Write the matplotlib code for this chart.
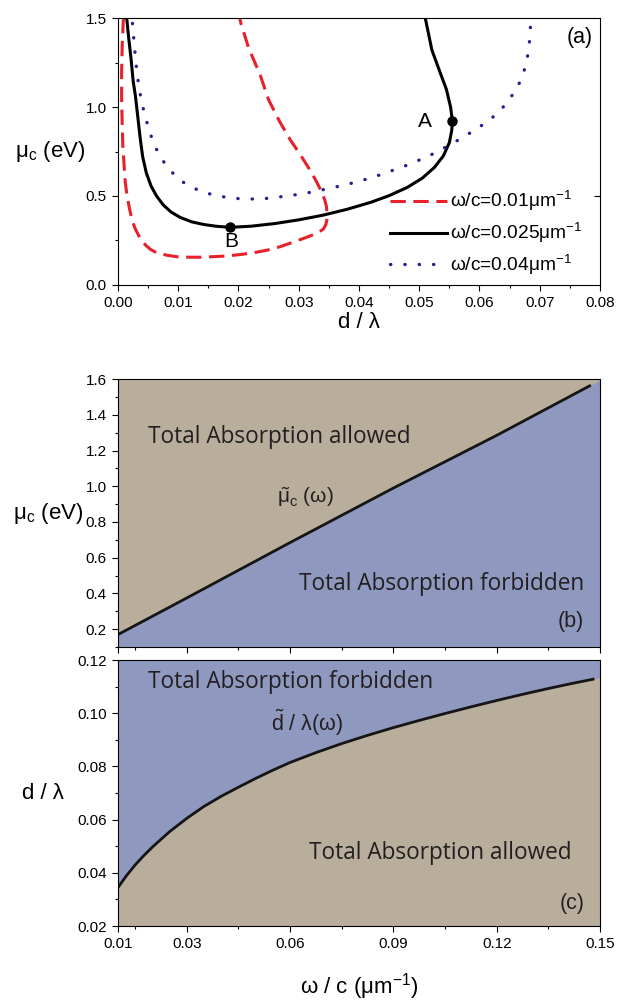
import matplotlib
matplotlib.use('Agg')
import matplotlib.pyplot as plt
from matplotlib.ticker import MultipleLocator, FixedLocator, FormatStrFormatter

plt.rcParams['font.family'] = ['Liberation Sans', 'DejaVu Sans']
plt.rcParams['mathtext.fontset'] = 'custom'
plt.rcParams['mathtext.rm'] = 'Liberation Sans'
plt.rcParams['mathtext.it'] = 'Liberation Sans'
plt.rcParams['mathtext.default'] = 'regular'

# panel (a): mu_c vs d/lambda for three omega/c
d_red = [0.0009, 0.0007, 0.0006, 0.0006, 0.0007, 0.0008, 0.0010, 0.0012, 0.0015,
         0.0019, 0.0023, 0.0028, 0.0034, 0.0039, 0.0047, 0.0054, 0.0064, 0.0080,
         0.0097, 0.0118, 0.0136, 0.0158, 0.0180, 0.0203, 0.0225, 0.0248, 0.0269,
         0.0290, 0.0305, 0.0320, 0.0333, 0.0341, 0.0345, 0.0347, 0.0347, 0.0346,
         0.0343, 0.0337, 0.0328, 0.0316, 0.0302, 0.0286, 0.0268, 0.0250, 0.0236,
         0.0217, 0.0204, 0.0202]
mu_red = [1.50, 1.35, 1.20, 1.05, 0.90, 0.78, 0.68, 0.58, 0.50,
          0.43, 0.37, 0.32, 0.28, 0.25, 0.22, 0.20, 0.181, 0.168,
          0.159, 0.156, 0.156, 0.159, 0.163, 0.171, 0.181, 0.196, 0.215,
          0.240, 0.258, 0.277, 0.295, 0.315, 0.34, 0.37, 0.40, 0.44,
          0.48, 0.53, 0.59, 0.66, 0.735, 0.815, 0.92, 1.04, 1.18,
          1.33, 1.47, 1.50]

d_blk = [0.00144, 0.0018, 0.0022, 0.0025, 0.0029, 0.0031, 0.0034, 0.0037, 0.0041,
         0.0047, 0.0055, 0.0064, 0.0075, 0.0088, 0.0103, 0.0122, 0.0142, 0.0163,
         0.0186, 0.0220, 0.0260, 0.0300, 0.0340, 0.0380, 0.0420, 0.0450, 0.0480,
         0.0505, 0.0525, 0.0540, 0.0550, 0.0554, 0.0555, 0.0552, 0.0545, 0.0534,
         0.0521, 0.0510]
mu_blk = [1.50, 1.38, 1.26, 1.15, 1.06, 1.00, 0.91, 0.82, 0.72,
          0.63, 0.555, 0.50, 0.45, 0.41, 0.38, 0.355, 0.34, 0.33,
          0.324, 0.330, 0.345, 0.366, 0.392, 0.425, 0.465, 0.502, 0.548,
          0.600, 0.660, 0.725, 0.800, 0.870, 0.923, 1.00, 1.10, 1.20,
          1.32, 1.50]

d_blu = [0.0024, 0.0027, 0.0030, 0.0034, 0.0039, 0.0045, 0.0052, 0.0060, 0.0070,
         0.0080, 0.0092, 0.0108, 0.0125, 0.0145, 0.0165, 0.0185, 0.0205, 0.0227,
         0.0249, 0.0271, 0.0297, 0.0320, 0.0357, 0.0399, 0.0438, 0.0479, 0.0515,
         0.0551, 0.0575, 0.0598, 0.0620, 0.0637, 0.0651, 0.0663, 0.0672, 0.0678,
         0.0682, 0.0684, 0.0685]
mu_blu = [1.47, 1.35, 1.24, 1.13, 1.03, 0.95, 0.865, 0.79, 0.721,
          0.672, 0.625, 0.578, 0.545, 0.518, 0.501, 0.490, 0.484, 0.483,
          0.487, 0.496, 0.508, 0.521, 0.547, 0.581, 0.622, 0.672, 0.723,
          0.787, 0.835, 0.883, 0.936, 0.99, 1.05, 1.11, 1.18, 1.25,
          1.33, 1.41, 1.48]

labels_a = ['ω/c=0.01μm$^{-1}$', 'ω/c=0.025μm$^{-1}$', 'ω/c=0.04μm$^{-1}$']
pts_name = ['A', 'B']
pts_d = [0.0555, 0.0186]
pts_mu = [0.923, 0.324]

# panel (b): critical mu_c vs omega/c
om_b = [0.01, 0.03, 0.06, 0.09, 0.12, 0.147]
mu_b = [0.17, 0.375, 0.685, 0.99, 1.285, 1.562]
om_b_edge, mu_b_edge = 0.15, 1.595

# panel (c): critical d/lambda vs omega/c
om_c = [0.01, 0.0125, 0.015, 0.0175, 0.02, 0.025, 0.03, 0.035, 0.04, 0.045, 0.05,
        0.055, 0.06, 0.0675, 0.075, 0.0825, 0.09, 0.0975, 0.105, 0.1125, 0.12,
        0.1275, 0.135, 0.1415, 0.148]
dl_c = [0.0345, 0.039, 0.043, 0.0465, 0.0497, 0.0555, 0.0605, 0.065, 0.0688, 0.0722,
        0.0755, 0.0786, 0.0815, 0.0852, 0.0886, 0.0917, 0.0946, 0.0973, 0.0999,
        0.1024, 0.1048, 0.1071, 0.1093, 0.1111, 0.1128]
om_c_edge, dl_c_edge = 0.15, 0.1135

om_ticks = [0.01, 0.03, 0.06, 0.09, 0.12, 0.15]
om_minor = [0.015, 0.045, 0.075, 0.105, 0.135]

tan = '#b9ae9c'
blue = '#8f98bf'
ink = '#231f20'
txt_font = ['Open Sans', 'DejaVu Sans']

fig = plt.figure(figsize=(6.27, 10.01), dpi=100)
ax_a = fig.add_axes([0.1882, 0.7153, 0.7687, 0.2667])
ax_b = fig.add_axes([0.1882, 0.3536, 0.7687, 0.2677])
ax_c = fig.add_axes([0.1882, 0.0749, 0.7687, 0.2657])

for ax in (ax_a, ax_b, ax_c):
    ax.tick_params(which='both', direction='out', labelsize=11, width=0.8)
    ax.tick_params(which='major', length=4.5)
    ax.tick_params(which='minor', length=2.5)
    for s in ax.spines.values():
        s.set_linewidth(0.8)
    # single mid tick on the right spine, as in the original
    sec = ax.secondary_yaxis('right')
    sec.set_yticks([sum(ax.get_ylim()) / 2])
    sec.tick_params(direction='in', length=4, width=0.8, labelright=False)
    sec.spines['right'].set_visible(False)

# (a)
ax_a.plot(d_red, mu_red, color='#e8202a', lw=2.2, dashes=(5, 2.5), label=labels_a[0])
ax_a.plot(d_blk, mu_blk, color='black', lw=2.2, label=labels_a[1])
ax_a.plot(d_blu, mu_blu, color='#23238f', lw=2.4, dashes=(0.1, 4.2),
          dash_capstyle='round', label=labels_a[2])
ax_a.plot(pts_d, pts_mu, 'o', color='black', ms=6.5)
ax_a.text(0.0510, 0.921, pts_name[0], fontsize=15, ha='center', va='center')
ax_a.text(0.0188, 0.242, pts_name[1], fontsize=15, ha='center', va='center')
ax_a.text(0.0788, 1.393, '(a)', fontsize=15.5, ha='right', va='center')
ax_a.set_xlim(0, 0.08)
ax_a.set_ylim(0, 1.5)
ax_a.xaxis.set_major_locator(MultipleLocator(0.01))
ax_a.xaxis.set_minor_locator(MultipleLocator(0.005))
ax_a.yaxis.set_major_locator(MultipleLocator(0.5))
ax_a.yaxis.set_minor_locator(MultipleLocator(0.25))
ax_a.xaxis.set_major_formatter(FormatStrFormatter('%.2f'))
ax_a.yaxis.set_major_formatter(FormatStrFormatter('%.1f'))
ax_a.set_xlabel('d / λ', fontsize=16)
ax_a.xaxis.set_label_coords(0.5, -0.142)
ax_a.xaxis.label.set_va('center')
ax_a.set_ylabel('μ$_{c}$ (eV)', fontsize=16, rotation=0, ha='center', va='center')
ax_a.yaxis.set_label_coords(-0.141, 0.5)
ax_a.legend(loc='lower left', bbox_to_anchor=(0.564, 0.03), frameon=False,
            fontsize=13.8, handlelength=3.0, handletextpad=0.15, labelspacing=0.4,
            borderpad=0, borderaxespad=0)

# (b)
ax_b.set_xlim(0.01, 0.15)
ax_b.set_ylim(0.1, 1.6)
ax_b.set_facecolor(tan)
ax_b.fill_between(om_b + [om_b_edge], mu_b + [mu_b_edge], 0.1, color=blue, lw=0)
ax_b.plot(om_b, mu_b, color='#151515', lw=2.0)
ax_b.xaxis.set_major_locator(FixedLocator(om_ticks))
ax_b.xaxis.set_minor_locator(FixedLocator(om_minor))
ax_b.tick_params(axis='x', labelbottom=False)
ax_b.yaxis.set_major_locator(MultipleLocator(0.2))
ax_b.yaxis.set_minor_locator(MultipleLocator(0.1))
ax_b.yaxis.set_major_formatter(FormatStrFormatter('%.1f'))
ax_b.set_ylabel('μ$_{c}$ (eV)', fontsize=16, rotation=0, ha='center', va='center')
ax_b.yaxis.set_label_coords(-0.144, 0.5)
ax_b.text(0.0187, 1.242, 'Total Absorption allowed', family=txt_font, fontsize=16.3,
          color=ink, va='baseline')
ax_b.text(0.0626, 0.419, 'Total Absorption forbidden', family=txt_font, fontsize=16.3,
          color=ink, va='baseline')
ax_b.text(0.0562, 0.906, r'$\tilde{\mu}_{c}$ (ω)', fontsize=15, color=ink, va='baseline')
ax_b.text(0.1454, 0.212, '(b)', fontsize=15.5, ha='right', va='baseline', color=ink)

# (c)
ax_c.set_xlim(0.01, 0.15)
ax_c.set_ylim(0.02, 0.12)
ax_c.set_facecolor(blue)
ax_c.fill_between(om_c + [om_c_edge], dl_c + [dl_c_edge], 0.02, color=tan, lw=0)
ax_c.plot(om_c, dl_c, color='#151515', lw=2.0)
ax_c.xaxis.set_major_locator(FixedLocator(om_ticks))
ax_c.xaxis.set_minor_locator(FixedLocator(om_minor))
ax_c.xaxis.set_major_formatter(FormatStrFormatter('%.2f'))
ax_c.yaxis.set_major_locator(MultipleLocator(0.02))
ax_c.yaxis.set_minor_locator(MultipleLocator(0.01))
ax_c.yaxis.set_major_formatter(FormatStrFormatter('%.2f'))
ax_c.set_ylabel('d / λ', fontsize=16, rotation=0, ha='center', va='center')
ax_c.yaxis.set_label_coords(-0.156, 0.5)
ax_c.set_xlabel('ω / c (μm$^{-1}$)', fontsize=16)
ax_c.xaxis.set_label_coords(0.5, -0.229)
ax_c.xaxis.label.set_va('center')
ax_c.text(0.0187, 0.1096, 'Total Absorption forbidden', family=txt_font, fontsize=16.3,
          color=ink, va='baseline')
ax_c.text(0.0544, 0.0933, r'$\tilde{d}$ / λ(ω)', fontsize=15.5, color=ink, va='baseline')
ax_c.text(0.0655, 0.0452, 'Total Absorption allowed', family=txt_font, fontsize=16.3,
          color=ink, va='baseline')
ax_c.text(0.1456, 0.0264, '(c)', fontsize=15.5, ha='right', va='baseline', color=ink)

fig.savefig('out.png', dpi=100)
